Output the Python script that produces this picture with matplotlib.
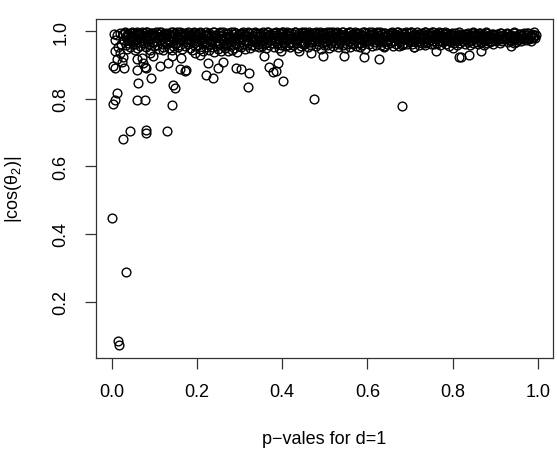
import matplotlib as mpl
import matplotlib.pyplot as plt
import numpy as np

# dense band near 1, read bin by bin off the picture
band_left = [
    (0.004, 0.993), (0.012, 0.988), (0.018, 0.995), (0.021, 0.962), (0.008, 0.975), (0.015, 0.952),
    (0.026, 0.991), (0.028, 0.973), (0.030, 0.998), (0.032, 0.958), (0.033, 0.984), (0.035, 0.947),
    (0.037, 0.993), (0.039, 0.966), (0.041, 0.979), (0.043, 0.954), (0.045, 0.996), (0.046, 0.970),
    (0.048, 0.987), (0.049, 0.961),
    (0.051, 0.982), (0.053, 0.995), (0.054, 0.963), (0.056, 0.976), (0.058, 0.999), (0.059, 0.950),
    (0.061, 0.989), (0.063, 0.968), (0.065, 0.993), (0.066, 0.957), (0.068, 0.980), (0.070, 0.997),
    (0.072, 0.972), (0.074, 0.985),
    (0.076, 0.994), (0.078, 0.966), (0.079, 0.983), (0.081, 0.952), (0.083, 0.998), (0.085, 0.975),
    (0.086, 0.961), (0.088, 0.990), (0.090, 0.944), (0.092, 0.978), (0.093, 0.996), (0.095, 0.969),
    (0.097, 0.986), (0.099, 0.956),
    (0.101, 0.988), (0.103, 0.971), (0.104, 0.997), (0.106, 0.959), (0.108, 0.981), (0.110, 0.993),
    (0.111, 0.948), (0.113, 0.975), (0.115, 0.999), (0.117, 0.963), (0.118, 0.986), (0.120, 0.954),
    (0.122, 0.992), (0.124, 0.970),
    (0.126, 0.983), (0.128, 0.996), (0.129, 0.962), (0.131, 0.977), (0.133, 0.950), (0.135, 0.991),
    (0.136, 0.968), (0.138, 0.998), (0.140, 0.945), (0.142, 0.980), (0.143, 0.957), (0.145, 0.989),
    (0.147, 0.973), (0.149, 0.994),
    (0.151, 0.965), (0.153, 0.987), (0.154, 0.999), (0.156, 0.953), (0.158, 0.976), (0.160, 0.992),
    (0.161, 0.960), (0.163, 0.982), (0.165, 0.947), (0.167, 0.995), (0.168, 0.971), (0.170, 0.985),
    (0.172, 0.956), (0.174, 0.990),
    (0.176, 0.978), (0.178, 0.997), (0.179, 0.962), (0.181, 0.988), (0.183, 0.951), (0.185, 0.974),
    (0.186, 0.993), (0.188, 0.943), (0.190, 0.982), (0.192, 0.966), (0.193, 0.999), (0.195, 0.957),
    (0.197, 0.985), (0.199, 0.970),
    (0.201, 0.991), (0.203, 0.959), (0.204, 0.977), (0.206, 0.996), (0.208, 0.948), (0.210, 0.984),
    (0.211, 0.965), (0.213, 0.993), (0.215, 0.940), (0.217, 0.972), (0.218, 0.988), (0.220, 0.954),
    (0.222, 0.998), (0.224, 0.968),
    (0.226, 0.981), (0.228, 0.945), (0.229, 0.995), (0.231, 0.963), (0.233, 0.987), (0.235, 0.952),
    (0.236, 0.975), (0.238, 0.999), (0.240, 0.938), (0.242, 0.969), (0.243, 0.990), (0.245, 0.957),
    (0.247, 0.983), (0.249, 0.946),
    (0.251, 0.994), (0.253, 0.961), (0.254, 0.979), (0.256, 0.942), (0.258, 0.988), (0.260, 0.955),
    (0.261, 0.997), (0.263, 0.970), (0.265, 0.949), (0.267, 0.984), (0.268, 0.964), (0.270, 0.992),
    (0.272, 0.940), (0.274, 0.976),
    (0.276, 0.986), (0.278, 0.958), (0.279, 0.998), (0.281, 0.944), (0.283, 0.973), (0.285, 0.991),
    (0.286, 0.951), (0.288, 0.980), (0.290, 0.966), (0.292, 0.995), (0.293, 0.939), (0.295, 0.977),
    (0.297, 0.989), (0.299, 0.956),
]

band_mid = [
    (0.301, 0.969), (0.303, 0.993), (0.304, 0.952), (0.306, 0.982), (0.308, 0.999), (0.310, 0.962),
    (0.311, 0.975), (0.313, 0.946), (0.315, 0.990), (0.317, 0.958), (0.318, 0.985), (0.320, 0.971),
    (0.322, 0.996), (0.324, 0.950),
    (0.326, 0.979), (0.328, 0.994), (0.329, 0.960), (0.331, 0.987), (0.333, 0.967), (0.335, 0.998),
    (0.336, 0.955), (0.338, 0.976), (0.340, 0.991), (0.342, 0.963), (0.343, 0.983), (0.345, 0.953),
    (0.347, 0.995), (0.349, 0.972),
    (0.351, 0.988), (0.353, 0.957), (0.354, 0.997), (0.356, 0.974), (0.358, 0.962), (0.360, 0.992),
    (0.361, 0.980), (0.363, 0.951), (0.365, 0.999), (0.367, 0.968), (0.368, 0.985), (0.370, 0.959),
    (0.372, 0.993), (0.374, 0.977),
    (0.376, 0.965), (0.378, 0.990), (0.379, 0.996), (0.381, 0.954), (0.383, 0.981), (0.385, 0.970),
    (0.386, 0.998), (0.388, 0.961), (0.390, 0.986), (0.392, 0.949), (0.393, 0.975), (0.395, 0.994),
    (0.397, 0.958), (0.399, 0.983),
    (0.401, 0.997), (0.403, 0.966), (0.404, 0.984), (0.406, 0.955), (0.408, 0.991), (0.410, 0.973),
    (0.411, 0.999), (0.413, 0.960), (0.415, 0.979), (0.417, 0.988), (0.418, 0.952), (0.420, 0.995),
    (0.422, 0.969), (0.424, 0.982),
    (0.426, 0.958), (0.428, 0.993), (0.429, 0.976), (0.431, 0.998), (0.433, 0.964), (0.435, 0.986),
    (0.436, 0.950), (0.438, 0.981), (0.440, 0.996), (0.442, 0.971), (0.443, 0.989), (0.445, 0.957),
    (0.447, 0.994), (0.449, 0.967),
    (0.451, 0.985), (0.453, 0.999), (0.454, 0.962), (0.456, 0.978), (0.458, 0.992), (0.460, 0.953),
    (0.461, 0.983), (0.463, 0.997), (0.465, 0.968), (0.467, 0.987), (0.468, 0.959), (0.470, 0.994),
    (0.472, 0.974), (0.474, 0.990),
    (0.476, 0.970), (0.478, 0.996), (0.479, 0.955), (0.481, 0.984), (0.483, 0.993), (0.485, 0.963),
    (0.486, 0.979), (0.488, 0.999), (0.490, 0.948), (0.492, 0.988), (0.493, 0.966), (0.495, 0.995),
    (0.497, 0.976), (0.499, 0.958),
    (0.501, 0.991), (0.503, 0.972), (0.504, 0.998), (0.506, 0.960), (0.508, 0.985), (0.510, 0.951),
    (0.511, 0.994), (0.513, 0.977), (0.515, 0.966), (0.517, 0.989), (0.518, 0.999), (0.520, 0.957),
    (0.522, 0.981), (0.524, 0.993),
    (0.526, 0.964), (0.528, 0.987), (0.529, 0.997), (0.531, 0.953), (0.533, 0.975), (0.535, 0.992),
    (0.536, 0.968), (0.538, 0.983), (0.540, 0.999), (0.542, 0.959), (0.543, 0.979), (0.545, 0.990),
    (0.547, 0.949), (0.549, 0.973),
    (0.551, 0.995), (0.553, 0.961), (0.554, 0.982), (0.556, 0.998), (0.558, 0.970), (0.560, 0.954),
    (0.561, 0.988), (0.563, 0.976), (0.565, 0.993), (0.567, 0.962), (0.568, 0.985), (0.570, 0.999),
    (0.572, 0.957), (0.574, 0.979),
    (0.576, 0.991), (0.578, 0.966), (0.579, 0.984), (0.581, 0.996), (0.583, 0.952), (0.585, 0.978),
    (0.586, 0.989), (0.588, 0.960), (0.590, 0.998), (0.592, 0.971), (0.593, 0.986), (0.595, 0.947),
    (0.597, 0.994), (0.599, 0.975),
]

band_right = [
    (0.601, 0.983), (0.603, 0.997), (0.604, 0.963), (0.606, 0.989), (0.608, 0.974), (0.610, 0.999),
    (0.611, 0.956), (0.613, 0.981), (0.615, 0.992), (0.617, 0.967), (0.618, 0.986), (0.620, 0.958),
    (0.622, 0.995), (0.624, 0.977),
    (0.626, 0.990), (0.628, 0.969), (0.629, 0.998), (0.631, 0.981), (0.633, 0.960), (0.635, 0.993),
    (0.636, 0.975), (0.638, 0.987), (0.640, 0.953), (0.642, 0.996), (0.643, 0.972), (0.645, 0.984),
    (0.647, 0.962), (0.649, 0.991),
    (0.651, 0.978), (0.653, 0.994), (0.654, 0.965), (0.656, 0.988), (0.658, 0.999), (0.660, 0.957),
    (0.661, 0.982), (0.663, 0.970), (0.665, 0.993), (0.667, 0.961), (0.668, 0.986), (0.670, 0.997),
    (0.672, 0.974), (0.674, 0.955),
    (0.676, 0.989), (0.678, 0.971), (0.679, 0.996), (0.681, 0.959), (0.683, 0.983), (0.685, 0.992),
    (0.686, 0.966), (0.688, 0.978), (0.690, 0.999), (0.692, 0.962), (0.693, 0.987), (0.695, 0.973),
    (0.697, 0.994), (0.699, 0.968),
    (0.701, 0.984), (0.703, 0.997), (0.704, 0.963), (0.706, 0.990), (0.708, 0.976), (0.710, 0.954),
    (0.711, 0.993), (0.713, 0.981), (0.715, 0.967), (0.717, 0.998), (0.718, 0.972), (0.720, 0.986),
    (0.722, 0.960), (0.724, 0.991),
    (0.726, 0.977), (0.728, 0.995), (0.729, 0.965), (0.731, 0.988), (0.733, 0.970), (0.735, 0.999),
    (0.736, 0.958), (0.738, 0.983), (0.740, 0.992), (0.742, 0.968), (0.743, 0.985), (0.745, 0.974),
    (0.747, 0.996), (0.749, 0.963),
    (0.751, 0.989), (0.753, 0.972), (0.754, 0.997), (0.756, 0.961), (0.758, 0.984), (0.760, 0.993),
    (0.761, 0.976), (0.763, 0.966), (0.765, 0.990), (0.767, 0.981), (0.768, 0.998), (0.770, 0.959),
    (0.772, 0.986), (0.774, 0.970),
    (0.776, 0.994), (0.778, 0.967), (0.779, 0.982), (0.781, 0.991), (0.783, 0.973), (0.785, 0.962),
    (0.786, 0.996), (0.788, 0.979), (0.790, 0.987), (0.792, 0.957), (0.793, 0.975), (0.795, 0.993),
    (0.797, 0.969), (0.799, 0.985),
    (0.801, 0.978), (0.803, 0.990), (0.804, 0.964), (0.806, 0.995), (0.808, 0.972), (0.810, 0.983),
    (0.811, 0.958), (0.813, 0.988), (0.815, 0.976), (0.817, 0.993), (0.818, 0.966), (0.820, 0.981),
    (0.822, 0.970), (0.824, 0.989),
    (0.826, 0.984), (0.828, 0.963), (0.829, 0.992), (0.831, 0.975), (0.833, 0.987), (0.835, 0.968),
    (0.836, 0.995), (0.838, 0.979), (0.840, 0.960), (0.842, 0.990), (0.843, 0.973), (0.845, 0.983),
    (0.847, 0.966), (0.849, 0.994),
    (0.851, 0.977), (0.853, 0.989), (0.854, 0.969), (0.856, 0.993), (0.858, 0.981), (0.860, 0.962),
    (0.861, 0.986), (0.863, 0.974), (0.865, 0.996), (0.867, 0.967), (0.868, 0.984), (0.870, 0.978),
    (0.872, 0.991), (0.874, 0.971),
    (0.876, 0.987), (0.878, 0.973), (0.879, 0.994), (0.881, 0.965), (0.883, 0.982), (0.885, 0.990),
    (0.886, 0.976), (0.888, 0.968), (0.890, 0.985), (0.892, 0.993), (0.893, 0.979), (0.895, 0.961),
    (0.897, 0.988), (0.899, 0.974),
    (0.901, 0.983), (0.903, 0.970), (0.905, 0.991), (0.907, 0.977), (0.909, 0.986), (0.911, 0.966),
    (0.913, 0.994), (0.915, 0.980), (0.917, 0.972), (0.919, 0.989), (0.921, 0.976), (0.923, 0.985),
    (0.926, 0.979), (0.928, 0.992), (0.930, 0.968), (0.932, 0.985), (0.934, 0.975), (0.936, 0.990),
    (0.938, 0.971), (0.941, 0.983), (0.943, 0.995), (0.945, 0.977), (0.947, 0.987), (0.949, 0.969),
    (0.951, 0.986), (0.953, 0.974), (0.955, 0.993), (0.958, 0.980), (0.960, 0.970), (0.962, 0.989),
    (0.965, 0.978), (0.967, 0.995), (0.969, 0.984), (0.972, 0.973), (0.974, 0.990),
    (0.976, 0.981), (0.978, 0.994), (0.980, 0.976), (0.983, 0.988), (0.985, 0.972), (0.987, 0.992),
    (0.989, 0.983), (0.991, 0.997), (0.993, 0.979), (0.996, 0.990),
]

# more points packed into the black core of the band
band_core = [
    (0.034, 0.985), (0.040, 0.975), (0.047, 0.982), (0.055, 0.988), (0.060, 0.978), (0.067, 0.991),
    (0.073, 0.965), (0.080, 0.988), (0.087, 0.979), (0.094, 0.990), (0.100, 0.967), (0.107, 0.985),
    (0.114, 0.982), (0.121, 0.977), (0.127, 0.990), (0.134, 0.972), (0.141, 0.986), (0.148, 0.963),
    (0.155, 0.983), (0.162, 0.974), (0.169, 0.992), (0.177, 0.968), (0.184, 0.985), (0.191, 0.976),
    (0.198, 0.990), (0.205, 0.970), (0.212, 0.981), (0.219, 0.962), (0.227, 0.990), (0.234, 0.972),
    (0.241, 0.984), (0.248, 0.965), (0.255, 0.986), (0.262, 0.977), (0.269, 0.958), (0.277, 0.970),
    (0.284, 0.982), (0.291, 0.962), (0.298, 0.992), (0.305, 0.978), (0.312, 0.988), (0.319, 0.964),
    (0.327, 0.984), (0.334, 0.975), (0.341, 0.969), (0.348, 0.986), (0.355, 0.979), (0.362, 0.966),
    (0.369, 0.990), (0.377, 0.982), (0.384, 0.974), (0.391, 0.966), (0.398, 0.991), (0.405, 0.978),
    (0.412, 0.986), (0.419, 0.965), (0.427, 0.980), (0.434, 0.972), (0.441, 0.985), (0.448, 0.961),
    (0.455, 0.989), (0.462, 0.975), (0.469, 0.967), (0.477, 0.983), (0.484, 0.972), (0.491, 0.991),
    (0.498, 0.980), (0.505, 0.968), (0.512, 0.985), (0.519, 0.974), (0.527, 0.980), (0.534, 0.962),
    (0.541, 0.987), (0.548, 0.982), (0.555, 0.971), (0.562, 0.966), (0.569, 0.989), (0.577, 0.976),
    (0.584, 0.966), (0.591, 0.985), (0.598, 0.982), (0.605, 0.970), (0.612, 0.988), (0.619, 0.976),
    (0.627, 0.981), (0.634, 0.969), (0.641, 0.985), (0.648, 0.976), (0.655, 0.971), (0.662, 0.990),
    (0.669, 0.980), (0.677, 0.976), (0.684, 0.962), (0.691, 0.984), (0.698, 0.980), (0.705, 0.970),
    (0.712, 0.987), (0.719, 0.979), (0.727, 0.984), (0.734, 0.966), (0.741, 0.978), (0.748, 0.989),
    (0.755, 0.980), (0.762, 0.985), (0.769, 0.972), (0.777, 0.986), (0.784, 0.979), (0.791, 0.971),
    (0.798, 0.990), (0.805, 0.983), (0.812, 0.975), (0.819, 0.987), (0.827, 0.978), (0.834, 0.982),
    (0.841, 0.972), (0.848, 0.987), (0.855, 0.981), (0.862, 0.990), (0.869, 0.976), (0.877, 0.981),
    (0.884, 0.986), (0.891, 0.972), (0.898, 0.981), (0.906, 0.985), (0.914, 0.978), (0.924, 0.982),
    (0.933, 0.987), (0.942, 0.976), (0.952, 0.982), (0.961, 0.986), (0.970, 0.980), (0.981, 0.986),
    (0.990, 0.988),
]

band_top = [
    (0.031, 0.996), (0.047, 0.999), (0.063, 0.994), (0.079, 0.998), (0.095, 0.995), (0.111, 0.999),
    (0.127, 0.993), (0.143, 0.997), (0.159, 0.999), (0.175, 0.994), (0.191, 0.996), (0.207, 0.999),
    (0.223, 0.993), (0.239, 0.997), (0.255, 0.999), (0.271, 0.995), (0.287, 0.998), (0.303, 0.994),
    (0.319, 0.999), (0.335, 0.996), (0.351, 0.993), (0.367, 0.998), (0.383, 0.995), (0.399, 0.999),
    (0.415, 0.994), (0.431, 0.997), (0.447, 0.999), (0.463, 0.993), (0.479, 0.998), (0.495, 0.996),
    (0.511, 0.999), (0.527, 0.994), (0.543, 0.997), (0.559, 0.999), (0.575, 0.995), (0.591, 0.998),
    (0.607, 0.993), (0.623, 0.999), (0.639, 0.996), (0.655, 0.994), (0.671, 0.998), (0.687, 0.995),
    (0.703, 0.999), (0.719, 0.993), (0.735, 0.997), (0.751, 0.999), (0.767, 0.994), (0.783, 0.997),
    (0.799, 0.995), (0.815, 0.998), (0.831, 0.993), (0.847, 0.997), (0.863, 0.994), (0.879, 0.998),
    (0.895, 0.993), (0.911, 0.996), (0.927, 0.994), (0.943, 0.997), (0.959, 0.993), (0.975, 0.996),
]

# scattered points just under the band
spread = [
    (0.003, 0.897), (0.007, 0.890), (0.029, 0.890), (0.058, 0.885), (0.077, 0.895), (0.081, 0.890),
    (0.112, 0.897), (0.132, 0.905), (0.159, 0.887), (0.171, 0.883),
    (0.007, 0.940), (0.019, 0.935), (0.011, 0.917), (0.026, 0.925), (0.023, 0.910),
    (0.054, 0.945), (0.058, 0.917), (0.070, 0.920), (0.073, 0.907), (0.089, 0.935), (0.163, 0.920),
    (0.097, 0.927), (0.140, 0.927), (0.121, 0.945),
    (0.062, 0.847), (0.091, 0.860), (0.144, 0.840), (0.148, 0.833),
    (0.175, 0.885), (0.222, 0.870), (0.237, 0.860), (0.249, 0.890), (0.225, 0.905), (0.260, 0.910),
    (0.206, 0.930), (0.194, 0.935),
    (0.292, 0.890), (0.302, 0.887), (0.323, 0.875), (0.319, 0.835), (0.358, 0.927), (0.370, 0.895),
    (0.378, 0.880), (0.390, 0.905), (0.401, 0.853), (0.386, 0.883), (0.397, 0.940),
    (0.440, 0.940), (0.468, 0.935), (0.495, 0.927), (0.546, 0.927), (0.593, 0.925),
    (0.628, 0.918), (0.640, 0.957), (0.710, 0.953), (0.760, 0.940), (0.800, 0.950), (0.815, 0.923),
    (0.820, 0.925), (0.838, 0.930), (0.866, 0.940), (0.873, 0.960), (0.936, 0.957), (0.944, 0.965),
    (0.989, 0.980),
]

# the few far-off points
outliers = [
    (0.025, 0.682), (0.042, 0.704), (0.079, 0.707), (0.079, 0.700), (0.130, 0.704),
    (0.001, 0.448), (0.032, 0.287), (0.015, 0.083), (0.016, 0.070),
    (0.003, 0.785), (0.007, 0.797), (0.011, 0.817), (0.058, 0.797), (0.077, 0.797),
    (0.141, 0.783), (0.474, 0.800), (0.682, 0.780),
]

x_ticks = [0.0, 0.2, 0.4, 0.6, 0.8, 1.0]
y_ticks = [0.2, 0.4, 0.6, 0.8, 1.0]


def main():
    mpl.rcParams['font.family'] = 'Liberation Sans'
    mpl.rcParams['font.size'] = 13
    mpl.rcParams['mathtext.default'] = 'regular'

    pts = np.array(band_left + band_mid + band_right + band_core + band_top
                   + spread + outliers)

    W, H = 557, 456
    fig = plt.figure(figsize=(W / 100, H / 100), dpi=100)
    ax = fig.add_axes([95.7 / W, (H - 359) / H, (552.7 - 95.7) / W, (359 - 20) / H])

    ax.plot(pts[:, 0], pts[:, 1], 'o', ls='none', mfc='none', mec='black',
            ms=6.3, mew=1.0)

    ax.set_xlim(-0.038, 1.035)
    ax.set_ylim(0.033, 1.036)
    ax.set_xticks(x_ticks)
    ax.set_xticklabels(['%.1f' % v for v in x_ticks])
    ax.set_yticks(y_ticks)
    ax.set_yticklabels(['%.1f' % v for v in y_ticks])
    ax.tick_params(direction='out', length=8, width=0.9, color='#333333')
    ax.tick_params(axis='x', pad=10)
    ax.tick_params(axis='y', pad=11, labelrotation=90)
    for lab in ax.get_yticklabels():
        lab.set_va('center')

    for s in ax.spines.values():
        s.set_linewidth(0.9)
        s.set_color('#333333')

    fig.text(324.2 / W, 1 - 440 / H, 'p\u2212vales for d=1',
             ha='center', va='center')
    fig.text(13 / W, 1 - 189.5 / H, '|cos(\u03b8$_2$)|',
             ha='center', va='center', rotation=90)

    fig.savefig('out.png', dpi=100)


if __name__ == '__main__':
    main()
